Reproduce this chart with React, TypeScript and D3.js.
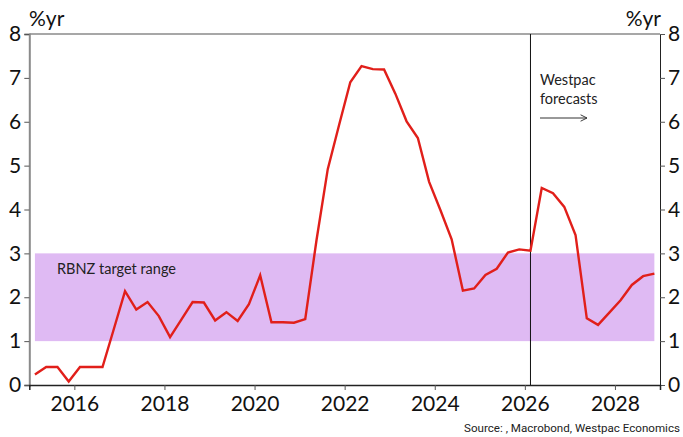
import React, { useEffect, useRef } from 'react';
import * as d3 from 'd3';

const W = 683;
const H = 437;

// quarterly CPI inflation, %yr (2015Q1 .. 2028Q4)
const years = d3.range(2015, 2029);
const quarters = [1, 2, 3, 4];
const inflation = [
  0.24, 0.41, 0.41, 0.08,
  0.41, 0.41, 0.41, 1.27,
  2.14, 1.72, 1.89, 1.57,
  1.09, 1.49, 1.89, 1.88,
  1.47, 1.66, 1.46, 1.84,
  2.5, 1.43, 1.43, 1.42,
  1.5, 3.3, 4.92, 5.92,
  6.9, 7.27, 7.2, 7.19,
  6.64, 6.01, 5.63, 4.63,
  3.99, 3.32, 2.15, 2.2,
  2.51, 2.65, 3.02, 3.09,
  3.06, 4.49, 4.37, 4.06,
  3.42, 1.52, 1.37, 1.65,
  1.93, 2.28, 2.48, 2.54,
];
const targetRange = [1, 3];
const forecastStart = 2026.125;
const yTicks = [0, 1, 2, 3, 4, 5, 6, 7, 8];
const xTicks = [2016, 2018, 2020, 2022, 2024, 2026, 2028];

const dates = years.flatMap((y) => quarters.map((q) => y + (q - 0.5) / 4));

const FONT = 'Lato, "Open Sans", sans-serif';

export default function App() {
  const ref = useRef<SVGSVGElement>(null);

  useEffect(() => {
    if (!ref.current) return;
    const svg = d3.select(ref.current);
    svg.selectAll('*').remove();

    const x = d3.scaleLinear().domain([2015, 2029]).range([29.3, 660]);
    const y = d3.scaleLinear().domain([0, 8]).range([385, 34]);

    // target band
    svg.append('rect')
      .attr('x', x(dates[0]))
      .attr('width', x(dates[dates.length - 1]) - x(dates[0]))
      .attr('y', y(targetRange[1]))
      .attr('height', y(targetRange[0]) - y(targetRange[1]))
      .attr('fill', '#dfbaf3');

    svg.append('text')
      .attr('x', 57)
      .attr('y', 274)
      .attr('font-family', FONT)
      .attr('font-size', 14.5)
      .attr('fill', '#222')
      .text('RBNZ target range');

    // frame: top gray line
    svg.append('line')
      .attr('x1', x(2015)).attr('x2', x(2029))
      .attr('y1', y(8)).attr('y2', y(8))
      .attr('stroke', '#8a8a8a').attr('stroke-width', 1.5);

    // left axis
    const left = svg.append('g').attr('transform', `translate(${x(2015)},0)`)
      .call(d3.axisLeft(y).tickValues(yTicks).tickSize(5).tickPadding(3).tickFormat(d3.format('d')));
    left.select('.domain').attr('stroke', '#8a8a8a').attr('stroke-width', 2);
    left.selectAll('.tick line').attr('stroke', '#555');
    left.selectAll('.tick text').attr('font-family', FONT).attr('font-size', 21).attr('fill', '#111');

    // right axis
    const right = svg.append('g').attr('transform', `translate(${x(2029)},0)`)
      .call(d3.axisRight(y).tickValues(yTicks).tickSize(5).tickPadding(3).tickFormat(d3.format('d')));
    right.select('.domain').attr('stroke', '#222').attr('stroke-width', 1);
    right.selectAll('.tick line').attr('stroke', '#555');
    right.selectAll('.tick text').attr('font-family', FONT).attr('font-size', 21).attr('fill', '#111');

    // bottom axis
    const bottom = svg.append('g').attr('transform', `translate(0,${y(0)})`)
      .call(d3.axisBottom(x).tickValues(xTicks).tickSize(5).tickPadding(6).tickFormat(d3.format('d')));
    bottom.select('.domain').attr('stroke', '#222').attr('stroke-width', 1.5);
    bottom.selectAll('.tick line').attr('stroke', '#555');
    bottom.selectAll('.tick text').attr('font-family', FONT).attr('font-size', 21).attr('fill', '#111');

    // units
    svg.append('text').attr('x', 29).attr('y', 26)
      .attr('font-family', FONT).attr('font-size', 21).attr('fill', '#111').text('%yr');
    svg.append('text').attr('x', 661).attr('y', 26).attr('text-anchor', 'end')
      .attr('font-family', FONT).attr('font-size', 21).attr('fill', '#111').text('%yr');

    // forecast divider
    svg.append('line')
      .attr('x1', x(forecastStart)).attr('x2', x(forecastStart))
      .attr('y1', y(8)).attr('y2', y(0))
      .attr('stroke', '#111').attr('stroke-width', 1);

    svg.append('text').attr('x', 540).attr('y', 85)
      .attr('font-family', FONT).attr('font-size', 14.5).attr('fill', '#222').text('Westpac');
    svg.append('text').attr('x', 540).attr('y', 104)
      .attr('font-family', FONT).attr('font-size', 14.5).attr('fill', '#222').text('forecasts');

    svg.append('defs').append('marker')
      .attr('id', 'arr').attr('viewBox', '0 0 10 10').attr('refX', 9).attr('refY', 5)
      .attr('markerWidth', 8).attr('markerHeight', 8).attr('orient', 'auto')
      .append('path').attr('d', 'M1,1 L9,5 L1,9').attr('fill', 'none').attr('stroke', '#333').attr('stroke-width', 1.2);
    svg.append('line')
      .attr('x1', 540).attr('x2', 587).attr('y1', 118).attr('y2', 118)
      .attr('stroke', '#333').attr('stroke-width', 1)
      .attr('marker-end', 'url(#arr)');

    // series
    const line = d3.line<number>()
      .x((_, i) => x(dates[i]))
      .y((d) => y(d));
    svg.append('path')
      .attr('d', line(inflation) ?? '')
      .attr('fill', 'none')
      .attr('stroke', '#e11f1a')
      .attr('stroke-width', 2.4)
      .attr('stroke-linejoin', 'miter');

    svg.append('text').attr('x', 680).attr('y', 432).attr('text-anchor', 'end')
      .attr('font-family', 'Roboto, sans-serif').attr('font-size', 11.6).attr('fill', '#222')
      .text('Source: , Macrobond, Westpac Economics');
  }, []);

  return (
    <svg
      ref={ref}
      width={W}
      height={H}
      style={{ position: 'absolute', left: 0, top: 0, background: '#fff' }}
    />
  );
}
